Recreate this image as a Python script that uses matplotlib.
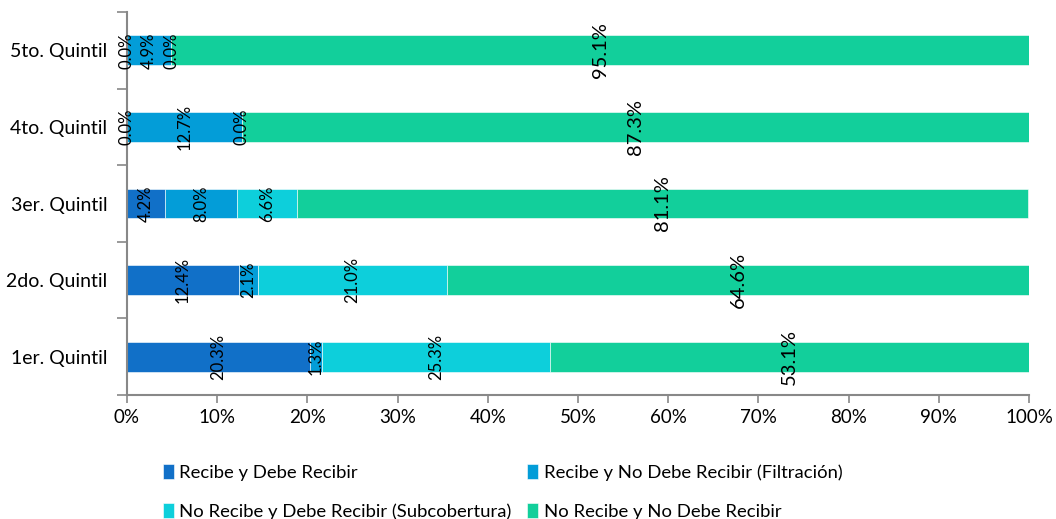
import matplotlib

matplotlib.use("Agg")
import matplotlib.pyplot as plt
import numpy as np

plt.rcParams["font.family"] = ["Lato", "DejaVu Sans"]

quintiles = ["1er. Quintil", "2do. Quintil", "3er. Quintil", "4to. Quintil", "5to. Quintil"]
series_names = [
    "Recibe y Debe Recibir",
    "Recibe y No Debe Recibir (Filtración)",
    "No Recibe y Debe Recibir (Subcobertura)",
    "No Recibe y No Debe Recibir",
]
recibe_debe = [20.3, 12.4, 4.2, 0.0, 0.0]
filtracion = [1.3, 2.1, 8.0, 12.7, 4.9]
subcobertura = [25.3, 21.0, 6.6, 0.0, 0.0]
no_recibe_no_debe = [53.1, 64.6, 81.1, 87.3, 95.1]

colors = ["#1170c8", "#039dd8", "#0dcfdb", "#12cf9b"]
label_sizes = [12, 12, 12, 14.5]

fig = plt.figure(figsize=(10.56, 5.19), dpi=100)
ax = fig.add_axes([127 / 1056, 1 - 395 / 519, 902 / 1056, 383 / 519])

y = np.arange(len(quintiles))
left = np.zeros(len(quintiles))
handles = []
for name, vals, col, fs in zip(
    series_names,
    [recibe_debe, filtracion, subcobertura, no_recibe_no_debe],
    colors,
    label_sizes,
):
    vals = np.array(vals)
    h = ax.barh(y, vals, left=left, height=0.39, color=col,
                edgecolor="white", linewidth=0.4, label=name)
    handles.append(h)
    for yi, l, v in zip(y, left, vals):
        ax.text(l + v / 2, yi, f"{v:.1f}%", rotation=90, ha="center",
                va="center", fontsize=fs, color="black")
    left = left + vals

ax.set_xlim(0, 100)
ax.set_ylim(-0.5, len(quintiles) - 0.5)
ax.set_xticks(np.arange(0, 101, 10))
ax.set_xticklabels([f"{t}%" for t in range(0, 101, 10)])
ax.set_yticks(y)
ax.set_yticklabels(quintiles)
ax.set_yticks(np.arange(-0.5, len(quintiles), 1), minor=True)
ax.tick_params(axis="y", which="major", length=0, pad=14, labelsize=14)
ax.tick_params(axis="y", which="minor", length=7, width=1.2, color="#888888")
ax.tick_params(axis="x", length=6, width=1.2, color="#888888", labelsize=13.5, pad=4)
for s in ["top", "right"]:
    ax.spines[s].set_visible(False)
for s in ["left", "bottom"]:
    ax.spines[s].set_color("#888888")
    ax.spines[s].set_linewidth(1.5)

order = [0, 2, 1, 3]
fig.legend(
    [handles[i] for i in order],
    [series_names[i] for i in order],
    ncol=2,
    loc="upper left",
    bbox_to_anchor=(146 / 1056, 1 - 447 / 519),
    frameon=False,
    fontsize=13.3,
    handlelength=0.6,
    handleheight=0.9,
    handletextpad=0.3,
    columnspacing=0.85,
    labelspacing=1.2,
)

fig.savefig("out.png", dpi=100)
